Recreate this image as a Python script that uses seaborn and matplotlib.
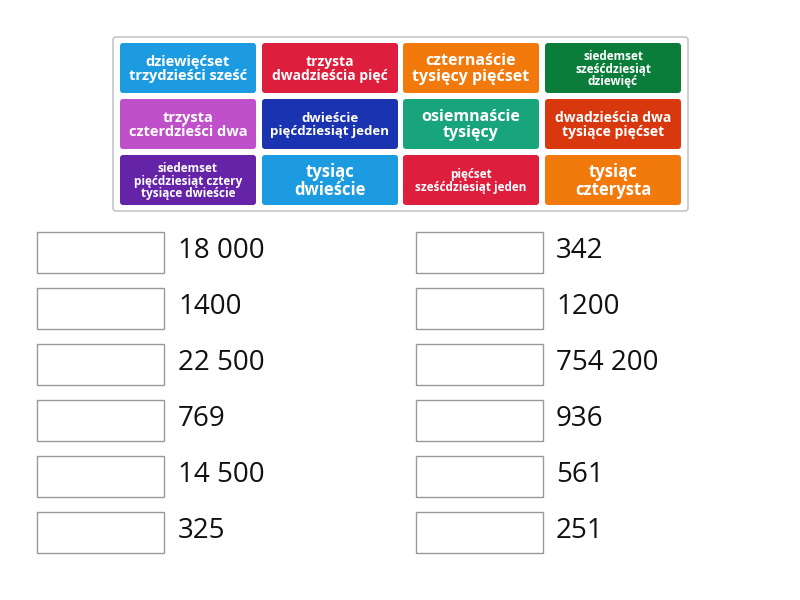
import matplotlib
matplotlib.use("Agg")
import matplotlib.pyplot as plt
import seaborn as sns
from matplotlib.patches import FancyBboxPatch, Rectangle

sns.set_style("white")

# Word tiles (row by row)
tile_labels = [
    "dziewięćset\ntrzydzieści sześć", "trzysta\ndwadzieścia pięć",
    "czternaście\ntysięcy pięćset", "siedemset\nsześćdziesiąt\ndziewięć",
    "trzysta\nczterdzieści dwa", "dwieście\npięćdziesiąt jeden",
    "osiemnaście\ntysięcy", "dwadzieścia dwa\ntysiące pięćset",
    "siedemset\npięćdziesiąt cztery\ntysiące dwieście", "tysiąc\ndwieście",
    "pięćset\nsześćdziesiąt jeden", "tysiąc\nczterysta",
]
tile_colors = [
    "#1c9be0", "#dd1e3c", "#f27a0c", "#0b7d3a",
    "#c04fca", "#1a33b0", "#18a57c", "#d9380f",
    "#6524a8", "#1c9be0", "#dd1e3c", "#f27a0c",
]
tile_sizes = [10.5, 10, 11.5, 8.5, 10.5, 9.5, 11.5, 10, 8.5, 12, 8.5, 12]

left_numbers = ["18 000", "1400", "22 500", "769", "14 500", "325"]
right_numbers = ["342", "1200", "754 200", "936", "561", "251"]

fig = plt.figure(figsize=(8, 6), dpi=100)
ax = fig.add_axes([0, 0, 1, 1])
ax.set_xlim(0, 800)
ax.set_ylim(600, 0)
ax.axis("off")

# outer frame around tiles
ax.add_patch(FancyBboxPatch((113, 37), 575, 174, boxstyle="round,pad=0,rounding_size=3",
                            fc="white", ec="#bbbbbb", lw=1))

col_x = [120, 262, 403, 545]
row_y = [43, 99, 155]
tw, th = 136, 50
for i, (lab, c, fs) in enumerate(zip(tile_labels, tile_colors, tile_sizes)):
    x, y = col_x[i % 4], row_y[i // 4]
    ax.add_patch(FancyBboxPatch((x, y), tw, th, boxstyle="round,pad=0,rounding_size=3",
                                fc=c, ec="none"))
    ax.text(x + tw / 2, y + th / 2 + 1, lab, ha="center", va="center", color="white",
            fontsize=fs, fontweight="bold", family="Open Sans", linespacing=1.0)

box_y = [232, 288, 344, 400, 456, 512]
for nums, bx, tx in [(left_numbers, 37, 178), (right_numbers, 416, 556)]:
    for n, y in zip(nums, box_y):
        ax.add_patch(Rectangle((bx, y), 127, 41, fc="white", ec="#999999", lw=1))
        ax.text(tx, y + 19, n, ha="left", va="center", fontsize=20,
                family="Open Sans", color="#111111")

fig.savefig("out.png", dpi=100, facecolor="white")
